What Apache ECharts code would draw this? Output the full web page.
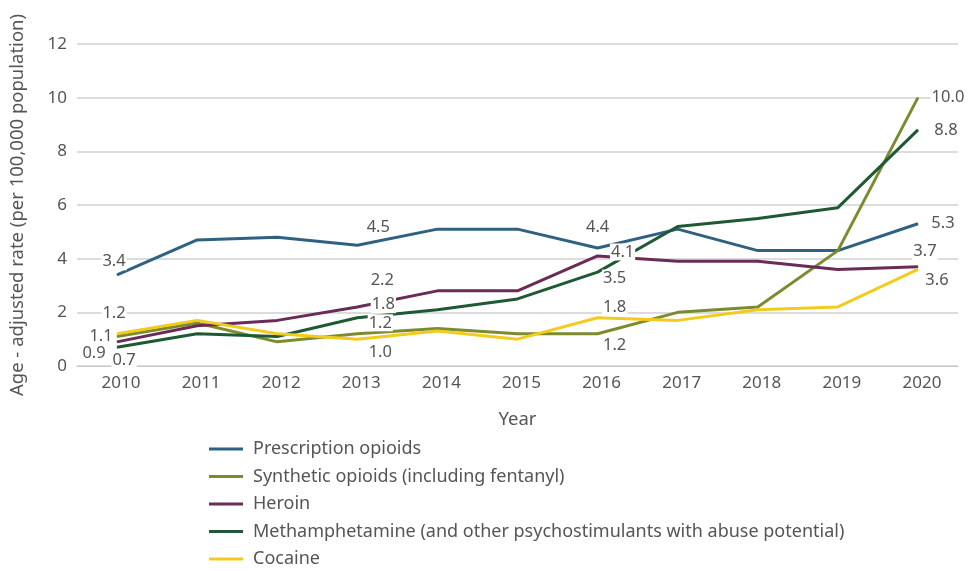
<!DOCTYPE html>
<html><head><meta charset="utf-8">
<script src="https://cdn.jsdelivr.net/npm/echarts@6/dist/echarts.min.js"></script>
<style>html,body{margin:0;padding:0;background:#fff}#c{width:968px;height:571px}</style>
</head><body><div id="c"></div>
<script>
const years = ['2010','2011','2012','2013','2014','2015','2016','2017','2018','2019','2020'];
const seriesNames = ['Prescription opioids','Synthetic opioids (including fentanyl)','Heroin','Methamphetamine (and other psychostimulants with abuse potential)','Cocaine'];
const prescription = [3.4, 4.7, 4.8, 4.5, 5.1, 5.1, 4.4, 5.1, 4.3, 4.3, 5.3];
const synthetic    = [1.1, 1.6, 0.9, 1.2, 1.4, 1.2, 1.2, 2.0, 2.2, 4.3, 10.0];
const heroin       = [0.9, 1.5, 1.7, 2.2, 2.8, 2.8, 4.1, 3.9, 3.9, 3.6, 3.7];
const meth         = [0.7, 1.2, 1.1, 1.8, 2.1, 2.5, 3.5, 5.2, 5.5, 5.9, 8.8];
const cocaine      = [1.2, 1.7, 1.2, 1.0, 1.3, 1.0, 1.8, 1.7, 2.1, 2.2, 3.6];
const yTicks = [0, 2, 4, 6, 8, 10, 12];

const colors = ['#2f6180', '#7d8b30', '#6a2b57', '#1d5a33', '#f3cb1c'];
// label offsets (px) per series: {categoryIndex: [dx, dy]}
const labelOffsets = [
  {0:[-3,-13], 3:[21,-18], 6:[0,-21], 10:[25,0]},
  {0:[-16,0], 3:[23,-11], 6:[17,11], 10:[30,0]},
  {0:[-23,11], 3:[25,-27], 6:[25,-4], 10:[7,-15]},
  {0:[7,13], 3:[26,-13], 6:[17,6], 10:[28,0]},
  {0:[-3,-21], 3:[23,13], 6:[17,-10], 10:[19,11]}
];
const values = [prescription, synthetic, heroin, meth, cocaine];

const series = values.map((vals, si) => ({
  name: seriesNames[si],
  type: 'line',
  symbol: 'circle',
  symbolSize: 1,
  showSymbol: true,
  z: 2,
  lineStyle: {width: 3, color: colors[si]},
  itemStyle: {color: colors[si]},
  emphasis: {disabled: true},
  data: vals.map((v, i) => ({
    value: v,
    label: {show: !!labelOffsets[si][i]}
  })),
  label: {
    position: 'inside',
    fontFamily: 'Noto Sans', fontSize: 16.5, color: '#555',
    backgroundColor: '#fff', padding: [0, 1],
    formatter: p => Number(p.value).toFixed(1)
  },
  labelLayout: function (p) {
    const off = labelOffsets[si][p.dataIndex] || [0, 0];
    return {dx: off[0], dy: off[1], hideOverlap: false};
  }
}));

const chart = echarts.init(document.getElementById('c'));
chart.setOption({
  animation: false,
  color: colors,
  textStyle: {fontFamily: 'Noto Sans'},
  grid: {left: 77, right: 10, top: 44, bottom: 205},
  legend: {
    orient: 'vertical', left: 204, top: 435, height: 160,
    icon: 'rect', itemWidth: 34, itemHeight: 3, itemGap: 9.5,
    textStyle: {fontSize: 18, color: '#555', lineHeight: 17, padding: [0,0,0,5]},
    data: seriesNames
  },
  xAxis: {
    type: 'category', data: years, boundaryGap: true,
    name: 'Year', nameLocation: 'middle', nameGap: 44,
    nameTextStyle: {fontSize: 18.5, color: '#555'},
    axisLine: {lineStyle: {color: '#c8c8c8'}},
    axisTick: {show: false},
    axisLabel: {fontSize: 17, color: '#555', margin: 9, padding: [0, 0, 0, 8]}
  },
  yAxis: {
    type: 'value', min: 0, max: 12, interval: 2,
    name: 'Age - adjusted rate (per 100,000 population)', nameLocation: 'middle', nameGap: 50,
    nameTextStyle: {fontSize: 18.5, color: '#555'},
    axisLine: {show: false}, axisTick: {show: false},
    axisLabel: {fontSize: 17, color: '#555', margin: 10,
      formatter: v => yTicks.includes(v) ? String(v) : ''},
    splitLine: {lineStyle: {color: '#d0d0d0', width: 1.5}}
  },
  series: series
});
</script></body></html>
